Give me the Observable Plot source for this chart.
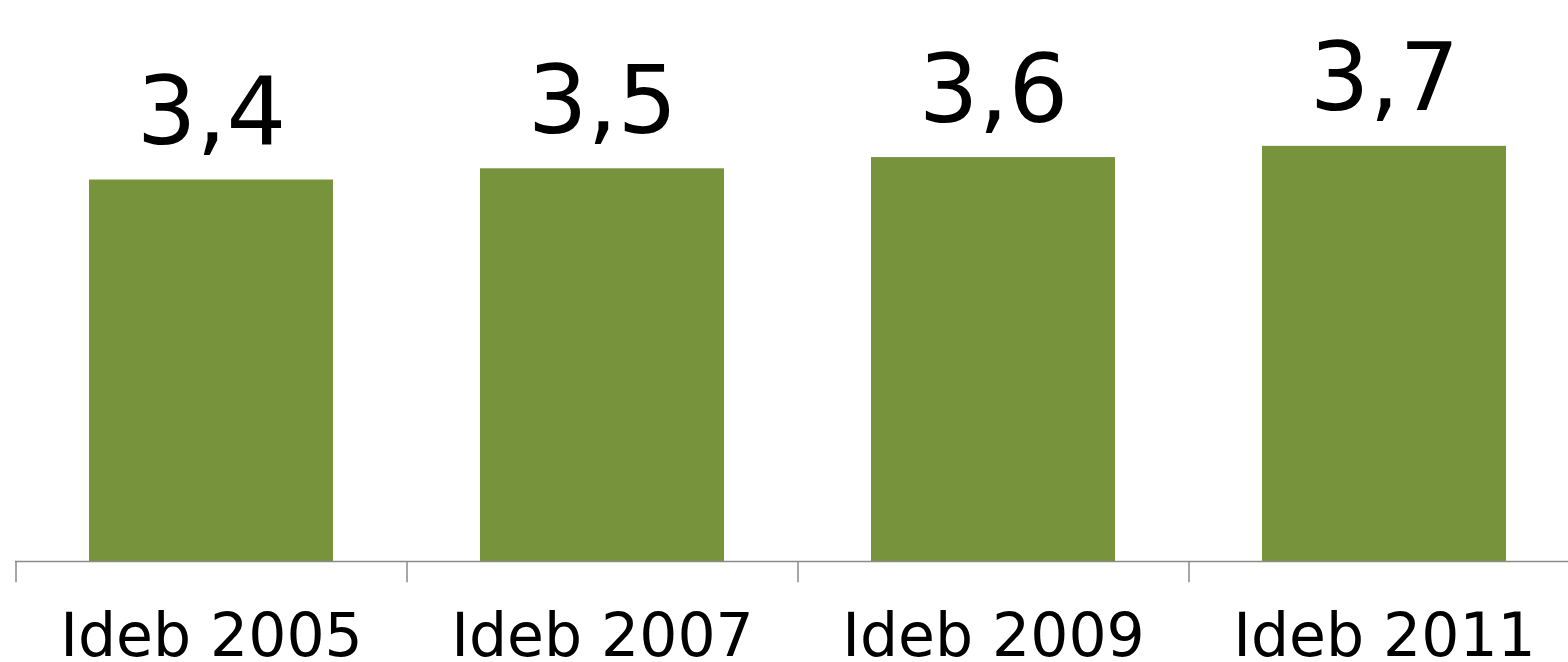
<!DOCTYPE html>
<html>
<head>
<meta charset="utf-8">
<script src="https://cdn.jsdelivr.net/npm/d3@7"></script>
<script src="https://cdn.jsdelivr.net/npm/@observablehq/plot@0.6"></script>
<style>
  html, body { margin: 0; padding: 0; background: #ffffff; }
</style>
</head>
<body>
<div id="chart"></div>
<script>
const categories = ["Ideb 2005", "Ideb 2007", "Ideb 2009", "Ideb 2011"];
const values = [3.4, 3.5, 3.6, 3.7];

const data = categories.map((c, i) => ({category: c, value: values[i]}));
const fmt = v => v.toFixed(1).replace(".", ",");

const xRange = [15, 1579];
const step = (xRange[1] - xRange[0]) / categories.length;

const chart = Plot.plot({
  width: 1568,
  height: 662,
  marginTop: 0,
  marginLeft: 15,
  marginRight: 0,
  marginBottom: 101,
  style: {fontFamily: "DejaVu Sans", background: "#ffffff", color: "#000000"},
  x: {domain: categories, range: xRange, paddingInner: 0.376, paddingOuter: 0.188, align: 0.5, label: null},
  y: {domain: [0, 5], axis: null},
  marks: [
    Plot.barY(data, {x: "category", y: "value", fill: "#77933c"}),
    Plot.ruleY([0], {stroke: "#8a8a8a", strokeWidth: 1.5}),
    Plot.ruleX(categories, {x: d => d, y1: 0, y2: -0.19, dx: -step / 2, stroke: "#8a8a8a", strokeWidth: 1.5}),
    Plot.text(data, {x: "category", y: "value", text: d => fmt(d.value), fontSize: 94, dy: -66, fill: "#000000", style: "letter-spacing: 3px"}),
    Plot.axisX({tickSize: 0, tickPadding: 52, fontSize: 60, fill: "#000000", label: null})
  ]
});
document.getElementById("chart").appendChild(chart);
</script>
</body>
</html>
